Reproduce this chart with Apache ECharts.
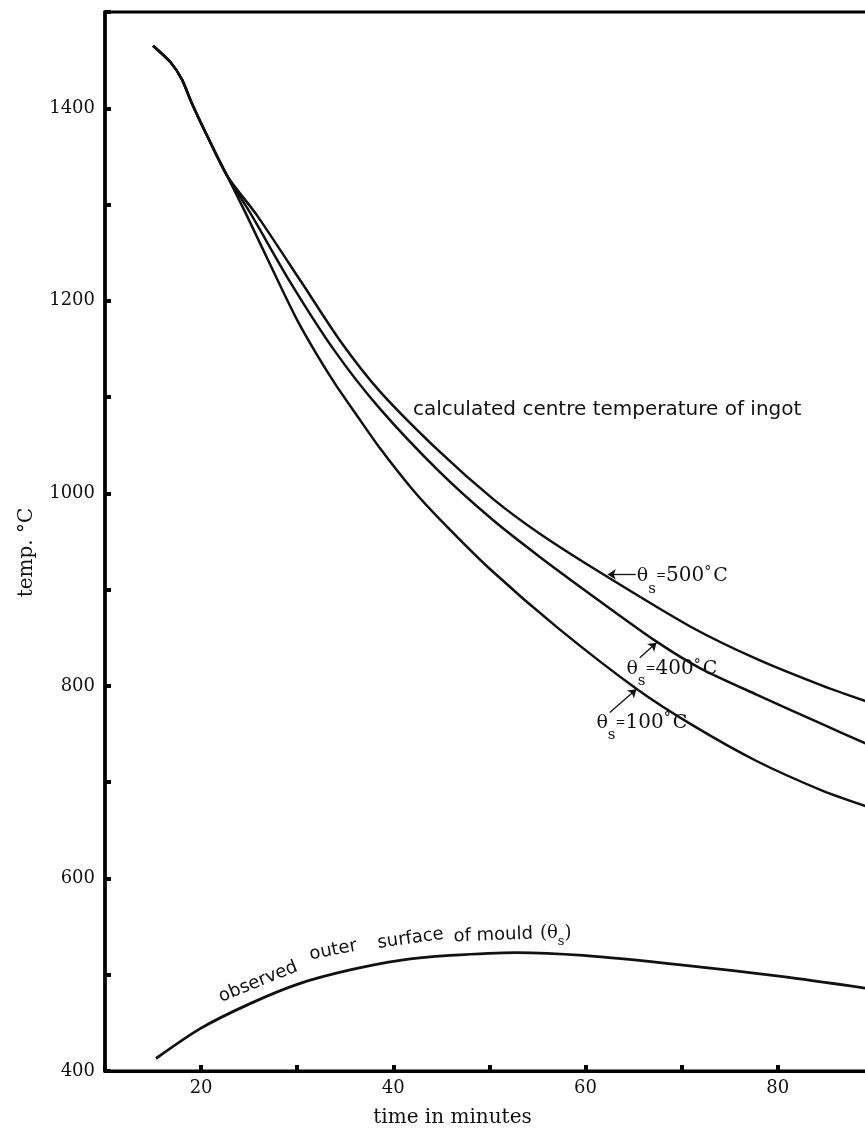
<!DOCTYPE html>
<html>
<head>
<meta charset="utf-8">
<title>centre temperature of ingot</title>
<script src="https://cdn.jsdelivr.net/npm/echarts@6.0.0/dist/echarts.min.js"></script>
<style>
    html, body { margin: 0; padding: 0; background: #fff; }
    #chart { width: 865px; height: 1132px; }
</style>
</head>
<body>
<div id="chart"></div>
<script>
// calculated centre temperature, theta_s = 500 C
const time500 = [15, 16.8, 18, 19, 20.6, 22.7, 25.8, 30.4, 34.5, 38.6, 44.85, 50.4, 55.25, 61.5, 70.85, 77.8, 84.7, 89.2];
const temp500 = [1465, 1448, 1430, 1406, 1372, 1330, 1289, 1220, 1158, 1106, 1043, 994, 958, 918, 862, 828, 800, 784];

// theta_s = 400 C
const time400 = [15, 16.8, 18, 19, 20.6, 22.7, 25.25, 29.24, 33.9, 38.6, 44.85, 50.4, 55.25, 61.5, 67.4, 72, 77.8, 84.7, 89.2];
const temp400 = [1465, 1448, 1430, 1406, 1372, 1330, 1289, 1220, 1148, 1088, 1022, 972, 934, 888, 846, 818, 791, 760, 740];

// theta_s = 100 C
const time100 = [15, 16.8, 18, 19, 20.6, 22.7, 24.74, 28.03, 30, 32, 34, 36, 38.6, 42, 44.85, 50, 57.15, 65.3, 71, 77.8, 84.7, 89.2];
const temp100 = [1465, 1448, 1430, 1406, 1372, 1330, 1289, 1220, 1180, 1145, 1113, 1084, 1047, 1004, 973, 922, 860, 797, 760, 722, 691, 675];

// observed outer surface of mould
const timeObs = [15.3, 19.9, 25.1, 30.3, 35.5, 40.7, 45.9, 52.8, 59.75, 70.15, 80.55, 89.2];
const tempObs = [413, 444, 470, 491, 505, 515, 520, 523, 520, 510, 498, 486];

const zip = (xs, ys) => xs.map((x, i) => [x, ys[i]]);

const INK = '#111';
const SERIF = 'DejaVu Serif';
const SANS = 'DejaVu Sans';

function curve(name, xs, ys, width, arrow) {
    const s = {
        name: name,
        type: 'line',
        data: zip(xs, ys),
        showSymbol: false,
        smooth: 0.25,
        lineStyle: { color: INK, width: width },
        silent: true,
    };
    if (arrow) {
        s.markLine = {
            silent: true,
            symbol: ['none', 'arrow'],
            symbolSize: 8,
            label: { show: false },
            lineStyle: { color: INK, width: 1.3, type: 'solid' },
            data: [[{ coord: arrow[0] }, { coord: arrow[1] }]],
        };
    }
    return s;
}

const chart = echarts.init(document.getElementById('chart'));

chart.setOption({
    animation: false,
    backgroundColor: '#fff',
    grid: {
        left: 105,
        right: -3,
        top: 12,
        bottom: 61,
        show: true,
        borderColor: '#000',
        borderWidth: 3,
        containLabel: false,
        outerBoundsMode: 'none',
    },
    xAxis: {
        type: 'value',
        min: 10,
        max: 89.4,
        interval: 10,
        name: 'time in minutes',
        nameLocation: 'middle',
        nameGap: 37,
        nameTextStyle: { fontFamily: SERIF, fontSize: 20, color: INK, padding: [0, 68, 0, 0] },
        axisLine: { show: true, lineStyle: { color: '#000', width: 3 } },
        axisTick: { show: true, inside: true, length: 6, lineStyle: { color: '#000', width: 4 } },
        axisLabel: {
            margin: 8,
            fontFamily: SERIF,
            fontSize: 18,
            color: INK,
            formatter: v => (v % 20 === 0 ? String(v) : ''),
        },
        splitLine: { show: false },
    },
    yAxis: {
        type: 'value',
        min: 400,
        max: 1500,
        interval: 100,
        name: 'temp. °C',
        nameLocation: 'middle',
        nameGap: 68,
        nameTextStyle: { fontFamily: SERIF, fontSize: 20, color: INK, padding: [0, 22, 0, 0] },
        axisLine: { show: true, lineStyle: { color: '#000', width: 3.5 } },
        axisTick: { show: true, inside: true, length: 6, lineStyle: { color: '#000', width: 4 } },
        axisLabel: {
            margin: 10,
            fontFamily: SERIF,
            fontSize: 18,
            color: INK,
            formatter: v => (v % 200 === 0 ? String(v) : ''),
        },
        splitLine: { show: false },
    },
    series: [
        curve('θs=500°C', time500, temp500, 2.5, [[65.23, 915.8], [62.32, 915.8]]),
        curve('θs=400°C', time400, temp400, 2.5, [[65.65, 829.3], [67.39, 844.9]]),
        curve('θs=100°C', time100, temp100, 2.5, [[62.53, 772.3], [65.3, 796.6]]),
        curve('observed outer surface of mould', timeObs, tempObs, 2.8, null),
    ],
});

// text annotations, anchored in data coordinates
const toPx = p => chart.convertToPixel({ xAxisIndex: 0, yAxisIndex: 0 }, p);

const thetaRich = {
    t: { fontFamily: SERIF, fontSize: 19, lineHeight: 40, fill: INK },
    s: { fontFamily: SERIF, fontSize: 15, verticalAlign: 'bottom', fill: INK },
    e: { fontFamily: SERIF, fontSize: 12, lineHeight: 40, fill: INK },
    v: { fontFamily: SERIF, fontSize: 20, lineHeight: 40, fill: INK },
    d: { fontFamily: SERIF, fontSize: 14, lineHeight: 40, fill: INK, padding: [0, 0, 8, 0] },
    c: { fontFamily: SERIF, fontSize: 19, lineHeight: 40, fill: INK, padding: [0, 0, 0, 2] },
};

const thetaLabels = [
    { at: [65.34, 914], val: '500' },
    { at: [64.26, 817.6], val: '400' },
    { at: [61.14, 761.7], val: '100' },
];

const mouldWords = [
    { text: 'observed', at: [25.95, 492.5], rot: 22 },
    { text: 'outer', at: [33.75, 525.4], rot: 11 },
    { text: 'surface', at: [41.8, 537.5], rot: 8 },
    { text: 'of mould', at: [50.4, 540.9], rot: 2 },
];

const graphic = [];

const cp = toPx([42.04, 1087]);
graphic.push({
    type: 'text',
    x: cp[0], y: cp[1],
    silent: true,
    style: {
        text: 'calculated centre temperature of ingot',
        fontFamily: SANS, fontSize: 20, fill: INK,
        align: 'left', verticalAlign: 'middle',
    },
});

thetaLabels.forEach(l => {
    const p = toPx(l.at);
    graphic.push({
        type: 'text',
        x: p[0], y: p[1],
        silent: true,
        style: {
            text: '{t|θ}{s|s}{e|=}{v|' + l.val + '}{d|°}{c|C}',
            rich: thetaRich,
            align: 'left', verticalAlign: 'middle',
        },
    });
});

mouldWords.forEach(w => {
    const p = toPx(w.at);
    graphic.push({
        type: 'text',
        x: p[0], y: p[1],
        rotation: w.rot * Math.PI / 180,
        silent: true,
        style: {
            text: w.text,
            fontFamily: SANS, fontSize: 18, fill: INK,
            align: 'center', verticalAlign: 'middle',
        },
    });
});

const tp = toPx([56.9, 543]);
graphic.push({
    type: 'text',
    x: tp[0], y: tp[1],
    silent: true,
    style: {
        text: '{p|(θ}{s|s}{p|)}',
        rich: {
            p: { fontFamily: SERIF, fontSize: 18, lineHeight: 30, fill: INK },
            s: { fontFamily: SERIF, fontSize: 13, verticalAlign: 'bottom', fill: INK },
        },
        align: 'center', verticalAlign: 'middle',
    },
});

chart.setOption({ graphic: graphic });
</script>
</body>
</html>
